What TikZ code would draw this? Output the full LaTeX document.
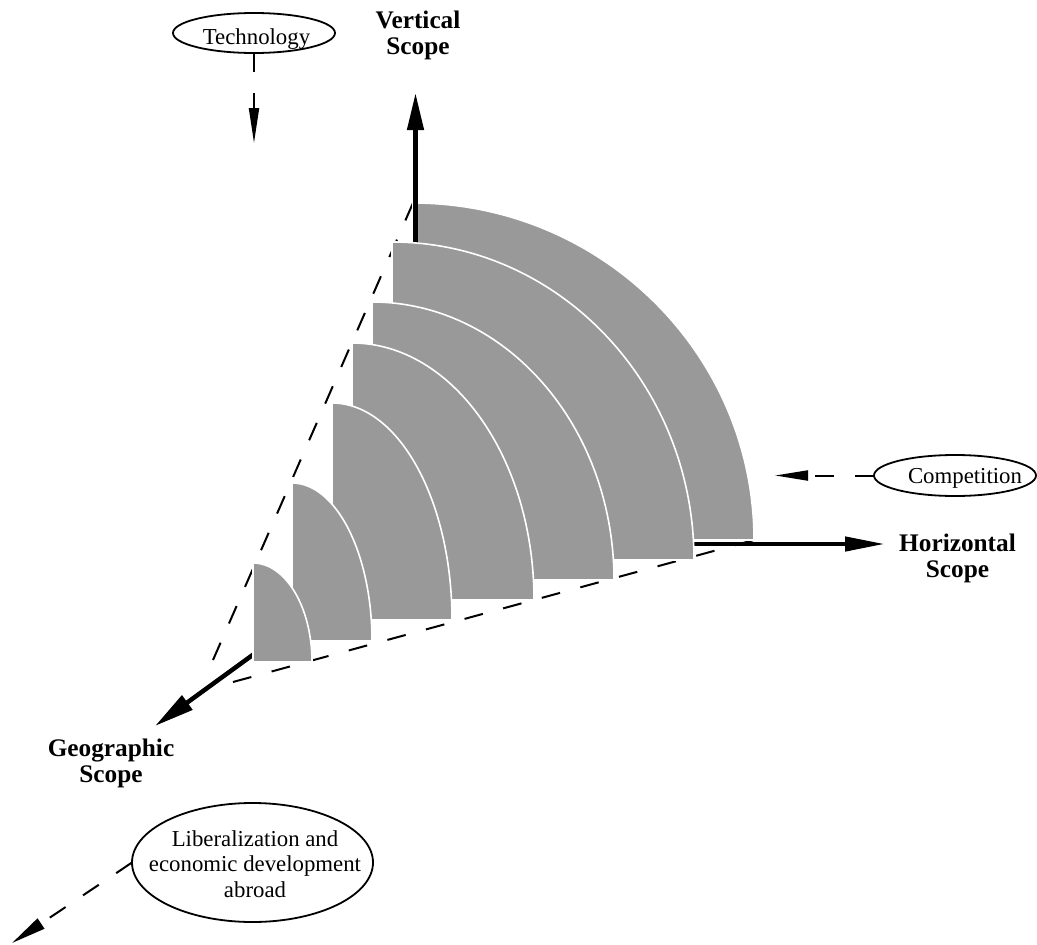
\documentclass[tikz,border=0pt]{standalone}
\usepackage{fontspec}
\setmainfont{Liberation Serif}
\usetikzlibrary{arrows.meta,shapes.geometric}
\definecolor{shade}{HTML}{999999}
\tikzset{
  axisline/.style={line width=4.5pt},
  coneline/.style={line width=2pt, dash pattern=on 19pt off 21pt},
  driver/.style={line width=2pt, dash pattern=on 19pt off 21pt},
  oval/.style={ellipse, draw, line width=1.8pt, inner sep=0pt, outer sep=0pt},
  band/.style={fill=shade, draw=white, line width=1.6pt, line join=miter},
  axlabel/.style={font=\bfseries\fontsize{25.3}{25.5}\selectfont, align=center, inner sep=0pt},
  txt/.style={font=\fontsize{22.8}{25.5}\selectfont, align=center, inner sep=0pt}
}
\begin{document}
\begin{tikzpicture}[x=1pt,y=-1pt]
\useasboundingbox (0,0) rectangle (1037,945);

% dashed cone edges
\coordinate (c1a) at (413,203);
\coordinate (c1b) at (213,660);
\coordinate (c2a) at (233,682);
\coordinate (c2b) at (754,540);
\draw[coneline] (c1a) -- (c1b);
\draw[coneline] (c2a) -- (c2b);

% largest band
\filldraw[band] (413,540) -- (413,203) .. controls (601.3,203) and (754,353.9) .. (754,540) -- cycle;

% axes
\coordinate (vstart) at (415.5,262);
\coordinate (vtip) at (415.5,93);
\coordinate (hstart) at (680,544);
\coordinate (htip) at (885,544);
\coordinate (gstart) at (265,646);
\coordinate (gtip) at (155,726);
\draw[axisline, -{Triangle[length=37pt,width=16pt]}] (vstart) -- (vtip);
\draw[axisline, -{Triangle[length=40pt,width=14pt]}] (hstart) -- (htip);
\draw[axisline, -{Triangle[length=40pt,width=17pt]}] (gstart) -- (gtip);

% remaining bands
\filldraw[band] (392,560) -- (392,242) .. controls (558.8,242) and (694,384.4) .. (694,560) -- cycle;
\filldraw[band] (372,580) -- (372,302) .. controls (505.7,302) and (614,426.5) .. (614,580) -- cycle;
\filldraw[band] (352,600) -- (352,343) .. controls (452.5,343) and (534,458.1) .. (534,600) -- cycle;
\filldraw[band] (332,620) -- (332,403) .. controls (398.3,403) and (452,500.2) .. (452,620) -- cycle;
\filldraw[band] (292,641) -- (292,483) .. controls (336.2,483) and (372,553.7) .. (372,641) -- cycle;
\filldraw[band] (253,662) -- (253,563) .. controls (285.6,563) and (312,607.3) .. (312,662) -- cycle;

% axis labels
\node[axlabel] (vlab) at (418,35.5) {Vertical\\Scope};
\node[axlabel] (hlab) at (957.5,558.5) {Horizontal\\Scope};
\node[axlabel] (glab) at (111,763.5) {Geographic\\Scope};

% drivers
\node[oval, minimum width=162pt, minimum height=40pt] (tech) at (254,33) {};
\node[txt, anchor=base] (techtxt) at (256.5,44) {Technology};
\coordinate (techtip) at (254,143);
\draw[driver, -{Triangle[length=35pt,width=10pt]}] (tech.south) -- (techtip);

\node[oval, minimum width=162pt, minimum height=41pt] (comp) at (955,475.5) {};
\node[txt, anchor=base] (comptxt) at (965,483.5) {Competition};
\coordinate (comptip) at (775,475.5);
\draw[driver, -{Triangle[length=33pt,width=10pt]}] (comp.west) -- (comptip);

\node[oval, minimum width=241pt, minimum height=119pt] (lib) at (252.5,862.5) {};
\node[txt] (libtxt) at (255,864) {Liberalization and\\economic development\\abroad};
\coordinate (libtip) at (12,943);
\draw[driver, -{Triangle[length=35pt,width=12pt]}] (lib.west) -- (libtip);
\end{tikzpicture}
\end{document}
